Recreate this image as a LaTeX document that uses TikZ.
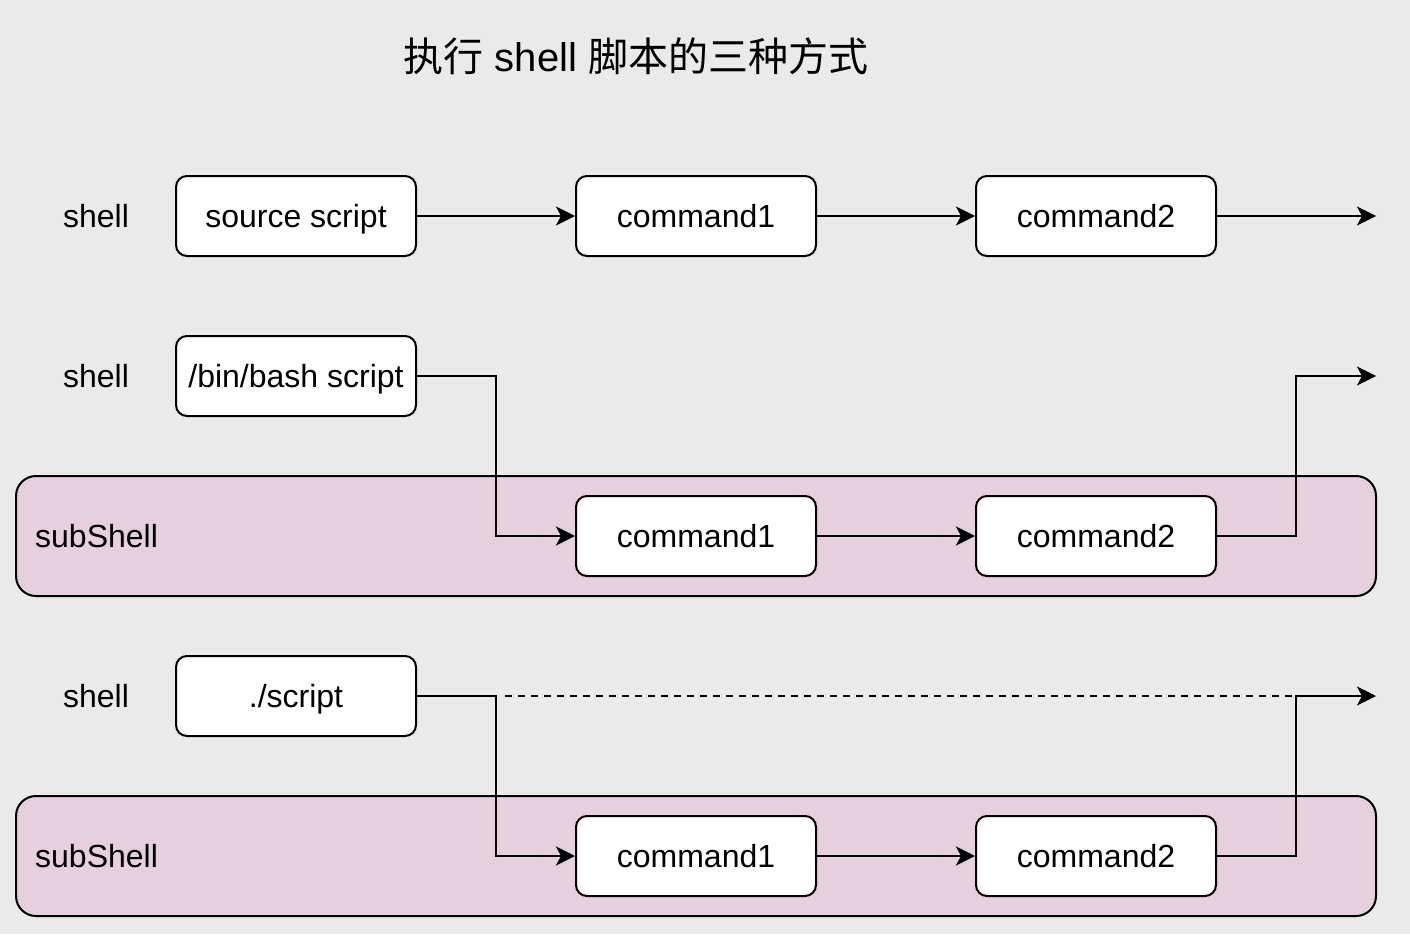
\documentclass[tikz,border=0pt]{standalone}
\usepackage{fontspec}
\setmainfont{Liberation Sans}
\newfontfamily\cjk{Noto Sans CJK SC}
\usetikzlibrary{arrows.meta}
\definecolor{bgc}{HTML}{EAEAEA}
\definecolor{pinkc}{HTML}{E6D0DE}
\tikzset{
  box/.style={draw=black, fill=white, line width=2pt, rounded corners=11pt, minimum width=240pt, minimum height=80pt, inner sep=0pt, text height=23pt, text depth=1pt, font=\fontsize{32}{38}\selectfont},
  container/.style={draw=black, fill=pinkc, line width=2pt, rounded corners=20pt, minimum width=1360pt, minimum height=120pt, inner sep=0pt},
  lbl/.style={font=\fontsize{32}{38}\selectfont, inner sep=0pt, text height=23pt, text depth=1pt},
  conn/.style={line width=2pt, -{Stealth[length=19pt,width=19pt,inset=5pt]}},
  dashline/.style={line width=2pt, dash pattern=on 7pt off 6pt}
}
\begin{document}
\begin{tikzpicture}[x=1pt,y=-1pt]
\fill[bgc] (0,0) rectangle (1410,934);
\useasboundingbox (0,0) rectangle (1410,934);
\node[font=\fontsize{40}{48}\selectfont, inner sep=0pt] (title) at (636,56) {{\cjk 执行} shell {\cjk 脚本的三种方式}};

% Row 1
\node[lbl] (sh1) at (96,216) {shell};
\node[box] (src) at (296,216) {source script};
\node[box] (c11) at (696,216) {command1};
\node[box] (c12) at (1096,216) {command2};
\coordinate (e1) at (1376,216);
\draw[conn] (src) -- (c11);
\draw[conn] (c11) -- (c12);
\draw[conn] (c12) -- (e1);

% Row 2
\node[container] (sub1) at (696,536) {};
\node[lbl, anchor=west] (sub1l) at (35,536) {subShell};
\node[lbl] (sh2) at (96,376) {shell};
\node[box] (bash) at (296,376) {/bin/bash script};
\node[box] (c21) at (696,536) {command1};
\node[box] (c22) at (1096,536) {command2};
\coordinate (e2) at (1376,376);
\draw[conn] (bash.east) -| (496,456) |- (c21.west);
\draw[conn] (c21) -- (c22);
\draw[conn] (c22.east) -| (1296,456) |- (e2);

% Row 3
\node[container] (sub2) at (696,856) {};
\node[lbl, anchor=west] (sub2l) at (35,856) {subShell};
\node[lbl] (sh3) at (96,696) {shell};
\node[box] (scr) at (296,696) {./script};
\node[box] (c31) at (696,856) {command1};
\node[box] (c32) at (1096,856) {command2};
\coordinate (e3) at (1376,696);
\coordinate (s3) at (496,696);
\coordinate (t3) at (1296,696);
\draw[conn] (scr.east) -- (s3) -- (496,856) -- (c31.west);
\draw[dashline] ([xshift=9pt]s3) -- (t3);
\draw[conn] (c31) -- (c32);
\draw[conn] (c32.east) -| (t3) -- (e3);
\end{tikzpicture}
\end{document}
